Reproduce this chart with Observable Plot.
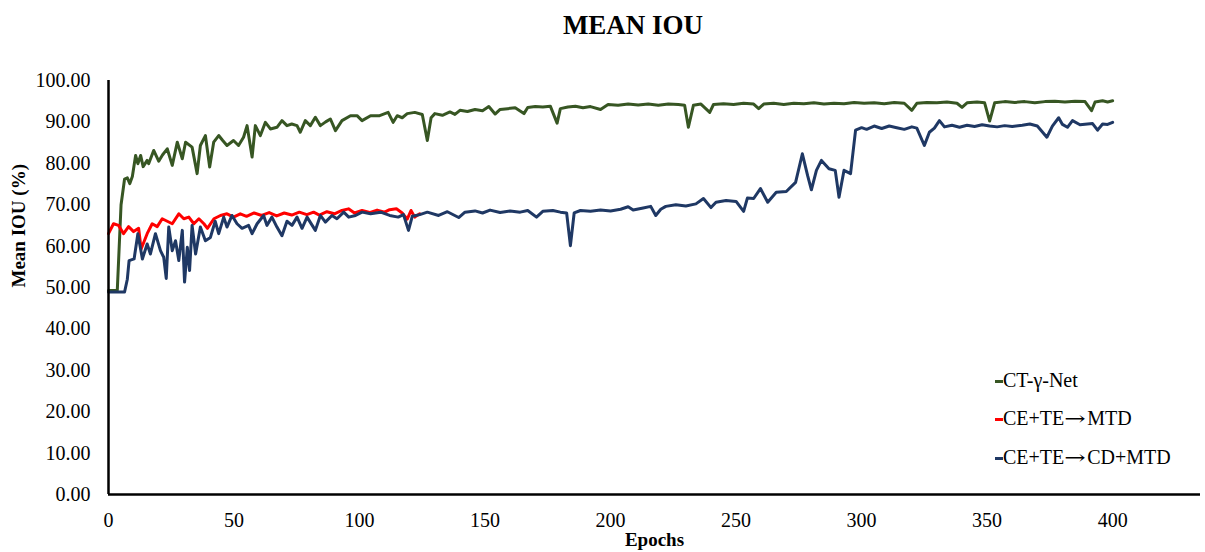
<!DOCTYPE html>
<html>
<head>
<meta charset="utf-8">
<script src="https://cdn.jsdelivr.net/npm/d3@7"></script>
<script src="https://cdn.jsdelivr.net/npm/@observablehq/plot@0.6"></script>
<style>
  html, body { margin: 0; padding: 0; background: #fff; }
  #wrap { position: relative; width: 1205px; height: 552px; overflow: hidden; font-family: "Liberation Serif", "Times New Roman", serif; }
  #title { position: absolute; left: 0; top: 0; width: 1266px; height: 50px; line-height: 50px; text-align: center; font-weight: bold; font-size: 27px; color: #000; }
  #chart { position: absolute; left: 0; top: 50px; }
  #chart svg, #chart svg text { font-family: "Liberation Serif", "Times New Roman", serif !important; }
  .leg { position: absolute; left: 995px; font-size: 20px; color: #000; white-space: nowrap; line-height: 24px; }
  .leg span.sw { display: inline-block; width: 8px; height: 3px; vertical-align: middle; position: relative; top: -1px; }
  .leg span.ar { display: inline-block; font-family: "DejaVu Serif", serif; font-size: 19px; transform: scaleX(1.35); margin: 0 4px 0 3px; }
</style>
</head>
<body>
<div id="wrap">
  <div id="title">MEAN IOU</div>
  <div id="chart"></div>
  <div id="legend"></div>
</div>
<script>
const seriesNames = ["CT-γ-Net", "CE+TE→MTD", "CE+TE→CD+MTD"];
const seriesColors = ["#375623", "#FF0000", "#1F3864"];
const xTicks = [0, 50, 100, 150, 200, 250, 300, 350, 400];
const yTicks = [0, 10, 20, 30, 40, 50, 60, 70, 80, 90, 100];

const greenEpochs = [0,3.5,5,6.4,7.5,8.5,9.5,10.8,11.7,12.8,13.8,15.4,16,18,20,21.5,23.4,25.4,27.4,29.4,30.7,33.3,35.3,36.6,38.6,40.3,41.9,43.9,45.5,47.2,49.8,51.8,53.8,55.2,57.2,58.5,60.5,62.5,64.5,67.1,69.1,71.1,73,75.1,76.4,78.4,80.4,82.4,84.4,86.5,88.4,90.4,93,96.4,99,101,104.4,108,111.4,113.4,115,117,119,122,125,127,128.5,130,133,136,138,140,143,146,149,151.5,154,156,159,162,165.5,167,170,173,176,178.7,180,183,186,189,192,196,199,203,207,211,215,219,223,227,229.5,231,233,236,239.5,241,245,249,253,257,259,261,265,269,273,277,281,285,289,293,297,301,305,309,313,317,320,322,326,330,334,338,340,342,346,349,351,353,357,361,365,369,373,377,381,385,389,391.6,393,396,398,400];
const greenValues = [49.3,49.3,70,76.2,76.5,75.1,76.8,81.9,79.9,81.9,79.2,80.7,79.9,83.1,80.5,82,83.5,79.5,85.1,81.1,85.1,83.9,77.5,84.3,86.7,79.1,85.1,86.7,85.5,84.3,85.5,84.3,86.3,89.1,81.5,89.1,86.7,89.9,88.3,88.7,90.3,89.1,89.5,89.1,87.5,90.3,89.1,91.1,89.1,90,90.7,87.9,90.3,91.5,91.5,90.3,91.5,91.5,92.3,89.9,91.5,91,92,92.3,91.8,85.5,91,92,91.6,92.4,91.8,92.8,92.5,93,92.7,93.7,91.9,93,93.2,93.4,92,93.5,93.7,93.6,93.8,89.7,93.2,93.6,93.8,93.4,93.7,93,94.2,94,94.3,94.1,94.3,94,94.3,94.2,94,88.7,94,94.3,92.3,94.2,94.4,94.2,94.5,94.3,93.2,94.3,94.5,94.2,94.5,94.4,94.6,94.3,94.5,94.4,94.7,94.5,94.6,94.4,94.7,94.5,92.8,94.5,94.7,94.6,94.8,94.5,93.5,94.6,94.8,94.6,90.2,94.6,94.9,94.7,94.9,94.6,94.9,95,94.8,95,94.9,92.7,94.8,95.1,94.8,95.1];

const redEpochs = [0,2,4,6,8,10,12,13,15.4,17.4,19.4,21.4,23.4,25.4,28,30,32,34,36,38,39.4,42,44.6,47.2,49.8,52.5,55,58,61,64,67,70,73,76,79,81.7,84,87,90,93,95.6,98,101,104,107,110,112,114.7,117,119,120.5,122,124];
const redValues = [63,65.4,65,63,64.7,63.5,64.3,59.3,63,65.4,64.7,66.6,66,65.4,67.8,66.6,67,65.4,66.6,65.4,64.3,66.6,67.4,67.8,67,67.8,67.2,68,67.4,68.1,67.3,68,67.5,68.2,67.6,68.2,67.5,68.3,67.8,68.6,69,68,68.6,68.1,68.7,68.2,68.8,69,68,66.5,68.6,67,67.8];

const blueEpochs = [0,6.4,7.5,8.2,10.2,11.7,13.5,15.4,16.7,18.7,20.7,22,23,24,25.4,26.7,28,29.4,30.3,31.4,32.3,33.3,34.7,36.6,38.6,40.6,42.5,43.9,45.9,47.2,49.2,51.2,53.2,55.8,57.2,59.2,61.8,63.1,65.1,67.1,69.1,71.1,73.1,75.1,77.1,79.1,82.4,84.4,86.4,89,91,93.7,95.7,98.4,101,104.4,108.4,112,115.4,117.5,119.5,121,124,127,131.5,135,139.5,142,146,149,152,156,160,164,167,170.5,173,177,180,182.5,184,185.5,188,192,196,200,204,207,209,213,216,218,220,222,226,230,234,237,240,242,246,250,253,254.5,257,259.7,262.6,266,270,273.7,276.4,278.5,280,282,284,287,289.5,291,293,295.6,297.6,300,302,305,308,311,314,317,320,322,325,327,329,331,333,336,339,342,345,348,351,354,357,360,364,367,370,373.8,376,378.5,380,382,384,387,390,392,394,396,398,400];
const blueValues = [48.9,48.9,52,56.5,56.9,63,56.9,60.5,58.1,63,58.9,57.3,52.2,64.6,58.9,61.3,56.5,63.8,51.3,59.7,54.1,65,58.1,64.6,61.3,62.1,66,63,67,64.6,67.4,65.4,64.3,65,63,65.4,67.4,65,67,64.6,62.5,66,65,67,64.3,67,63.8,67.4,65.8,67.4,66.6,68.2,67,67.4,68.2,67.8,68.2,67.4,67,67.6,63.8,67.2,67.6,68.2,67.4,68.3,66.9,68.2,68.5,68,68.7,68.1,68.5,68.2,68.6,67,68.4,68.6,68.2,68,60.1,68,68.6,68.4,68.7,68.5,68.9,69.5,68.7,69.2,69.6,67.4,68.9,69.6,70,69.7,70.2,71.5,69.3,70.6,71,70.8,68.4,71.6,71.5,73.9,70.6,73,73.2,75.4,82.3,77,73.6,78.3,80.7,78.7,78.3,71.8,78.3,77.5,88,88.6,88.2,89,88.4,89,88.6,88.2,88.8,88.5,84.3,87.5,88.5,90.3,88.8,89.2,88.7,89.2,88.9,89.3,89,88.8,89.1,88.9,89.2,89.5,89,86.3,89,91,89.4,88.7,90.3,89.3,89.5,89.6,88,89.5,89.4,89.9];

function rows(name, xs, ys) { return xs.map((x, i) => ({series: name, epoch: x, iou: ys[i]})); }
const green = rows(seriesNames[0], greenEpochs, greenValues);
const red = rows(seriesNames[1], redEpochs, redValues);
const blue = rows(seriesNames[2], blueEpochs, blueValues);

const font = '"Liberation Serif", "Times New Roman", serif';

const chart = Plot.plot({
  width: 1205,
  height: 502,
  marginLeft: 108,
  marginRight: 5,
  marginTop: 30,
  marginBottom: 58,
  style: { fontFamily: font, fontSize: "20px", color: "#000", background: "#fff" },
  x: { domain: [0, 435] },
  y: { domain: [0, 100] },
  marks: [
    Plot.axisY({ ticks: yTicks, tickFormat: d => d.toFixed(2), tickSize: 0, tickPadding: 18, label: null, fontSize: 20 }),
    Plot.axisX({ ticks: xTicks, tickFormat: d => String(d), tickSize: 0, tickPadding: 18, label: null, fontSize: 20 }),
    Plot.text(["Mean IOU (%)"], { frameAnchor: "left", dx: -90, rotate: -90, fontWeight: "bold", fontSize: 19, fill: "#000" }),
    Plot.text(["Epochs"], { frameAnchor: "bottom", dy: 51, lineAnchor: "bottom", fontWeight: "bold", fontSize: 19, fill: "#000" }),
    Plot.line(green, { x: "epoch", y: "iou", stroke: seriesColors[0], strokeWidth: 3 }),
    Plot.line(red, { x: "epoch", y: "iou", stroke: seriesColors[1], strokeWidth: 3 }),
    Plot.line(blue, { x: "epoch", y: "iou", stroke: seriesColors[2], strokeWidth: 3 }),
    Plot.ruleX([0], { stroke: "#000", strokeWidth: 2.5 }),
    Plot.ruleY([0], { stroke: "#000", strokeWidth: 2.5 })
  ]
});
document.getElementById("chart").appendChild(chart);

const legTops = [368, 406, 445];
const legend = document.getElementById("legend");
seriesNames.forEach((n, i) => {
  const d = document.createElement("div");
  d.className = "leg";
  d.style.top = legTops[i] + "px";
  const sw = document.createElement("span");
  sw.className = "sw";
  sw.style.background = seriesColors[i];
  d.appendChild(sw);
  const parts = n.split("→");
  parts.forEach((p, j) => {
    if (j > 0) {
      const ar = document.createElement("span");
      ar.className = "ar";
      ar.textContent = "→";
      d.appendChild(ar);
    }
    d.appendChild(document.createTextNode(p));
  });
  legend.appendChild(d);
});
</script>
</body>
</html>
